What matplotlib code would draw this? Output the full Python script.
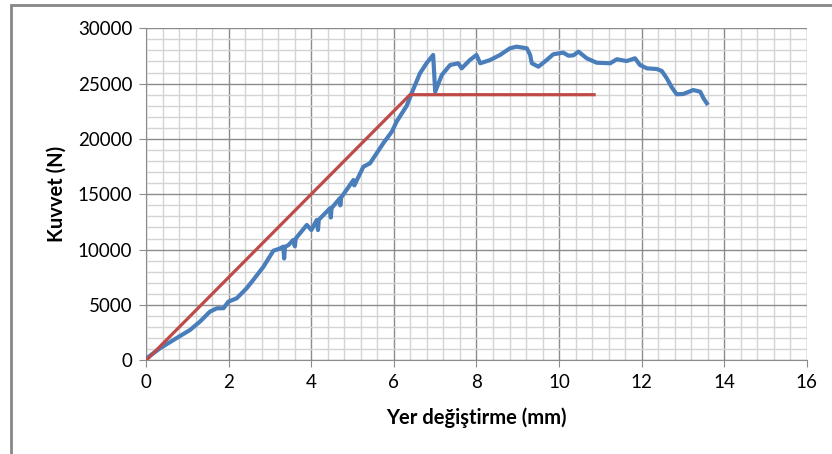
import matplotlib.pyplot as plt
from matplotlib.ticker import MultipleLocator
from matplotlib.patches import Rectangle

plt.rcParams['font.family'] = ['Lato', 'DejaVu Sans']

# measured curve (displacement mm, force N)
disp = [0.0, 0.01, 0.33, 0.82, 1.06, 1.30, 1.54, 1.71, 1.87, 1.99, 2.19, 2.43, 2.59,
        2.84, 3.08, 3.24, 3.32, 3.34, 3.36, 3.44, 3.56, 3.60, 3.62, 3.89, 4.0, 4.13,
        4.16, 4.18, 4.45, 4.47, 4.49, 4.69, 4.70, 4.72, 5.02, 5.04, 5.26, 5.42, 5.58,
        5.74, 5.95, 6.07, 6.31, 6.47, 6.63, 6.79, 6.95, 7.0, 7.16, 7.36, 7.56, 7.64,
        7.84, 8.0, 8.09, 8.33, 8.57, 8.81, 8.97, 9.22, 9.30, 9.34, 9.50, 9.70, 9.86,
        10.10, 10.23, 10.35, 10.47, 10.67, 10.91, 11.24, 11.40, 11.64, 11.84, 11.96,
        12.13, 12.37, 12.49, 12.61, 12.73, 12.85, 13.01, 13.25, 13.42, 13.50, 13.58]
force = [200, 180, 1080, 2200, 2740, 3490, 4390, 4700, 4700, 5300, 5600, 6500, 7250,
         8460, 9900, 10100, 10270, 9200, 10250, 10400, 10870, 10300, 11000, 12230, 11770, 12680,
         11770, 12700, 13730, 12900, 13750, 14640, 14000, 14700, 16290, 15800, 17490, 17800, 18700,
         19600, 20660, 21600, 23000, 24500, 25930, 26840, 27590, 24270, 25780, 26680, 26840, 26380,
         27130, 27590, 26840, 27130, 27590, 28190, 28340, 28190, 27590, 26840, 26530, 27130, 27650,
         27800, 27520, 27560, 27890, 27290, 26890, 26840, 27200, 27040, 27290, 26680,
         26380, 26320, 26140, 25480, 24670, 24040, 24060, 24420, 24270, 23670, 23220]

# idealised bilinear line
bil_disp = [0.0, 6.39, 10.85]
bil_force = [0, 24000, 24000]

fig = plt.figure(figsize=(8.32, 4.54), dpi=100)
ax = fig.add_axes([0.1758, 0.2064, 0.7938, 0.7313])

ax.plot(disp, force, color='#4a7ebb', lw=3.0, solid_joinstyle='round', zorder=3)
ax.plot(bil_disp, bil_force, color='#be4b48', lw=2.3, zorder=4)

ax.set_xlim(0, 16)
ax.set_ylim(0, 30000)
ax.xaxis.set_major_locator(MultipleLocator(2))
ax.xaxis.set_minor_locator(MultipleLocator(0.4))
ax.yaxis.set_major_locator(MultipleLocator(5000))
ax.yaxis.set_minor_locator(MultipleLocator(1000))
ax.grid(which='major', color='#8c8c8c', lw=1.0)
ax.grid(which='minor', color='#d4d4d4', lw=1.0)
ax.set_axisbelow(True)

for s in ['top', 'right']:
    ax.spines[s].set_visible(False)
for s in ['left', 'bottom']:
    ax.spines[s].set_color('#8c8c8c')
ax.tick_params(which='major', length=5, color='#8c8c8c', labelsize=13.5, pad=5)
ax.tick_params(which='minor', length=0)

ax.set_xlabel('Yer değiştirme (mm)', fontsize=14.5, fontweight='bold', labelpad=12)
ax.set_ylabel('Kuvvet (N)', fontsize=14.5, fontweight='bold', labelpad=8)

# outer chart frame
fig.patches.append(Rectangle((11 / 832, -0.1), 1.2, 1 - 5 / 454 + 0.1,
                             transform=fig.transFigure, fill=False,
                             edgecolor='#878787', lw=2))

fig.savefig('out.png', dpi=100)
